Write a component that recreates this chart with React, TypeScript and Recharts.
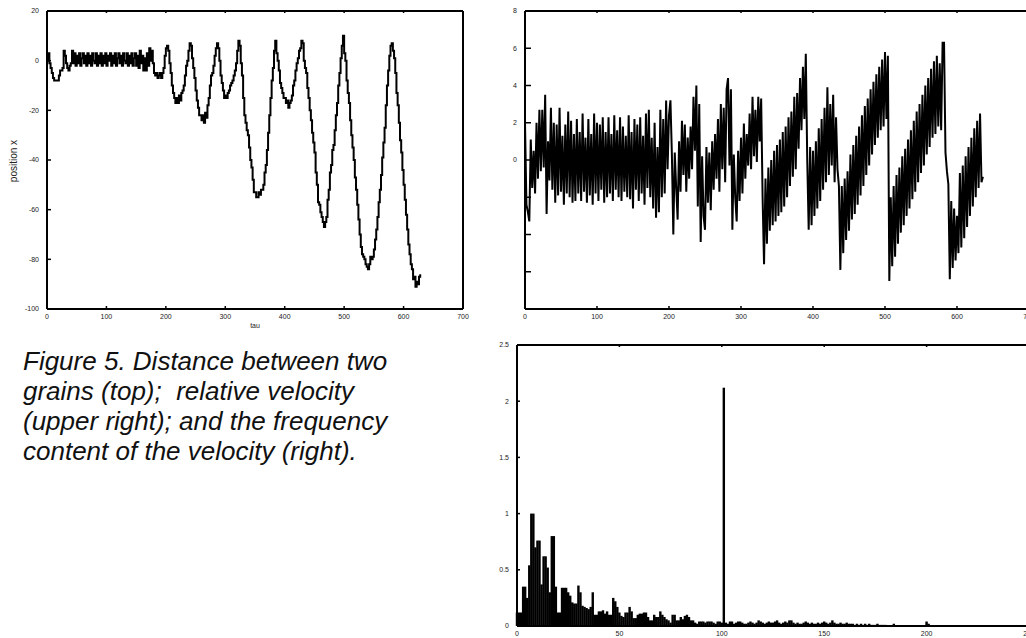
import React from 'react';
import { LineChart, Line, BarChart, Bar, XAxis, YAxis } from 'recharts';

// samples every 2 tau
const TAU_STEP = 2;

// distance between the two grains
const POSITION_X = [
  0, 3, -1, -3, -5, -7, -8, -8, -8, -8, -6, -4, -4, -3, 4, 2, -1, -3, -4, -2, -1, 4,
  -1, 3, -2, 2, -1, 3, -2, 1, 3, -1, 2, -2, 3, -1, 2, -2, 3, 0, -1, 3, -2, 2, -1, 3,
  -2, 2, -1, 3, -2, 2, 0, 3, -2, 2, -1, 3, -2, 1, 3, -1, 2, -2, 3, 0, -1, 3, -2, 2,
  -1, 3, -2, 1, 3, -2, 2, -3, 4, -1, 2, -4, 1, -4, 3, -2, 5, 0, 4, -1, -5,
  -6, -5, -7, -6, -5, -7, -5, -3, 2, 5,
  6, 4, -1, -5, -10, -13, -15, -17, -15, -17, -14, -16, -13, -12, -10, -6, -2, 0, 4, 7,
  6, 1, -3, -7, -12, -16, -19, -22, -22, -24, -22, -25, -21, -23, -18, -15, -10, -6, -5, -2,
  2, 5, 7, 5, 0, -6, -9, -12, -15, -14, -15, -13, -12, -10, -9, -8, -6, -4, -1, 4,
  8, 6, -1, -6, -15, -22, -25, -28, -30, -35, -40, -43, -48, -53, -53, -55, -55, -53, -54, -52,
  -52, -50, -45, -42, -36, -29, -22, -15, -8, -3, 4, 8, 3, 0, -4, -9, -11, -13, -15, -15,
  -17, -16, -19, -17, -16, -14, -10, -8, -4, -1, 1, 4, 5, 8, 7, 0, -3, -5, -11, -15,
  -20, -24, -29, -33, -37, -45, -50, -57, -58, -61, -63, -65, -67, -65, -63, -56, -52, -45, -42, -36,
  -34, -28, -22, -17, -10, -5, 1, 6, 10, 3, 0, -8, -13, -17, -24, -30, -35, -40, -47, -52,
  -58, -64, -70, -75, -78, -79, -80, -82, -83, -84, -82, -79, -80, -79, -76, -72, -68, -63, -57, -52,
  -46, -39, -33, -27, -18, -10, -4, 2, 6, 7, 4, 1, -5, -13, -18, -25, -32, -37, -44, -50,
  -56, -62, -68, -74, -78, -82, -84, -88, -87, -91, -89, -90, -87, -86,
];

// relative velocity
const VELOCITY = [
  2, -2.4, -2.8, -3.3, 1.1, -1.5, 0.5, -1.8, 2.0, -1.0, 2.7, -0.6, 2.7, -0.4, 3.5, -2.9, 1.0, -1.1, 2.8, -1.6,
  2.0, -2.3, 1.9, -1.9, 2.8, -1.7, 1.3, -2.4, 1.9, -1.8, 2.6, -2.0, 2.1, -2.3, 1.4, -2.2, 2.2, -1.8, 1.5, -2.2,
  2.5, -1.7, 1.2, -2.3, 2.2, -1.9, 1.4, -2.4, 2.5, -1.8, 2.0, -2.2, 1.9, -1.6, 2.3, -2.3, 1.5, -2.0, 2.3, -1.8,
  1.4, -2.2, 2.4, -1.6, 1.6, -2.0, 2.3, -2.2, 1.8, -1.7, 1.3, -2.0, 2.4, -2.1, 1.5, -2.6, 2.2, -1.6, 1.9, -2.2,
  2.3, -1.8, 1.3, -2.4, 2.5, -1.5, 2.7, -2.0, 1.2, -2.6, 2.0, -3.1, 0.7, -2.8, 2.7, -2.0, 2.2, -1.8, 3.2, -0.5,
  2.4,
  3.2, 0.3, -4.0, 0.4, -1.5, -3.2, 1.0, -1.7, 2.1, -0.8, 1.9, -1.7, 1.2, -1.0, 1.8, -0.5, 3.4, 0.5, 4.0, -2.5,
  3.0, -4.4, 0.2, -3.0, -3.75, 0.7, -2.3, 0.4, -2.7, 1.0, -1.6, 1.4, -1.0, 2.2, -1.7, 3.0, -0.5, 2.8, -1.2, 3.8,
  4.4, -0.3, 3.8, -3.75, 0.3, -2.0, -3.3, 0.5, -2.2, 1.2, -1.8, 1.96, -1.0, 1.4, -0.3, 2.5, -0.5, 3.4, 0.2, 2.7,
  -0.1, 3.4, 1.0, 3.3, -2.0,
  -5.6, -1.0, -4.5, -0.4, -3.8, 0.0, -3.5, 0.5, -3.3, 0.8, -3.0, 1.1, -2.8, 1.5, -2.5, 1.8, -2.0, 2.3, -1.4, 2.6,
  -0.9, 3.4, -0.5, 3.6, 0.6, 4.4, 1.6, 5.0, 2.2, 5.7, 0.0, -3.75, 0.7, -3.5, 0.5, -3.0, 1.0, -2.6, 1.7, -2.2,
  2.2, -1.6, 2.8, -1.2, 3.9, -0.8, 3.0, -0.3, 3.5, -1.2, 2.3, -0.5, -1.4, -5.9, -1.4, -5.0, -1.0, -4.3, -0.6, -3.8,
  0.3, -3.2, 0.8, -2.9, 1.3, -2.4, 1.8, -1.9, 2.4, -1.4, 2.9, -0.8, 3.3, -0.3, 3.8, 0.3, 4.2, 0.8, 4.6, 1.2,
  5.0, 1.6, 5.4, 1.8, 5.8, 2.2, 5.6, -6.5, -2.0, -5.7, -1.4, -5.2, -0.8, -4.5, -0.4, -3.9, 0.2, -3.5, 0.6, -3.0,
  1.1, -2.6, 1.6, -2.1, 2.1, -1.7, 2.6, -1.2, 3.0, -0.7, 3.5, -0.3, 4.0, 0.3, 4.4, 0.7, 4.9, 1.2, 5.3, 1.4,
  5.6, 1.8, 5.2, 1.6, 6.3, 6.3, 0.4, -0.6, -1.3, -6.4, -2.2, -5.8, -2.6, -5.4, -3.0, -5.0, -0.7, -4.7, -0.3, -4.2,
  0.2, -3.6, 0.7, -3.0, 1.2, -2.5, 1.7, -2.0, 2.1, -1.5, 2.5, -1.2, -0.9,
];

// frequency content of the velocity, index = frequency
const SPECTRUM = [
  0.12, 0.12, 0.12, 0.35, 0.35, 0.25, 0.54, 1.0, 1.0, 0.7, 0.76, 0.76, 0.37, 0.62, 0.62, 0.52, 0.3, 0.8, 0.8, 0.35,
  0.12, 0.12, 0.34, 0.34, 0.34, 0.3, 0.27, 0.21, 0.2, 0.2, 0.36, 0.3, 0.18, 0.17, 0.16, 0.15, 0.17, 0.3, 0.1, 0.1,
  0.13, 0.13, 0.14, 0.11, 0.13, 0.1, 0.1, 0.25, 0.22, 0.17, 0.12, 0.09, 0.08, 0.12, 0.12, 0.17, 0.13, 0.07, 0.07, 0.1,
  0.11, 0.11, 0.12, 0.12, 0.08, 0.05, 0.05, 0.1, 0.08, 0.08, 0.13, 0.1, 0.08, 0.06, 0.05, 0.03, 0.1, 0.1, 0.05, 0.05,
  0.08, 0.06, 0.09, 0.1, 0.08, 0.05, 0.05, 0.03, 0.02, 0.04, 0.04, 0.04, 0.03, 0.04, 0.04, 0.04, 0.03, 0.02, 0.04, 0.04,
  0.03, 2.12, 0.03, 0.02, 0.04, 0.04, 0.02, 0.03, 0.04, 0.04, 0.03, 0.02, 0.02, 0.03, 0.04, 0.03, 0.02, 0.03, 0.05, 0.04,
  0.03, 0.02, 0.03, 0.04, 0.03, 0.03, 0.04, 0.05, 0.03, 0.02, 0.03, 0.04, 0.03, 0.05, 0.05, 0.03, 0.02, 0.03, 0.02, 0.02,
  0.03, 0.04, 0.03, 0.02, 0.03, 0.02, 0.02, 0.03, 0.02, 0.03, 0.04, 0.03, 0.02, 0.03, 0.05, 0.03, 0.02, 0.02, 0.03, 0.02,
  0.02, 0.03, 0.02, 0.02, 0.02, 0.01, 0.02, 0.01, 0.02, 0.01, 0.02, 0.01, 0.02, 0.01, 0.01, 0.01, 0.02, 0.01, 0.01, 0.01,
  0.01, 0.005, 0.005, 0.005, 0.02, 0.005, 0.005, 0.005, 0.005, 0.005, 0.005, 0.005, 0.005, 0.005, 0.005, 0.005, 0.005, 0.005, 0.005, 0.005,
  0.04, 0.02,
];

const TAU_TICKS = [0, 100, 200, 300, 400, 500, 600, 700];
const POS_TICKS = [-100, -80, -60, -40, -20, 0, 20];
const VEL_TICKS = [-8, -6, -4, -2, 0, 2, 4, 6, 8];
const FREQ_TICKS = [0, 50, 100, 150, 200, 250];
const AMP_TICKS = [0, 0.5, 1, 1.5, 2, 2.5];

const CAPTION = [
  'Figure 5. Distance between two',
  'grains (top);  relative velocity',
  '(upper right); and the frequency',
  'content of the velocity (right).',
];

const posData = POSITION_X.map((x, i) => ({ tau: i * TAU_STEP, x }));
const velData = VELOCITY.map((v, i) => ({ tau: i * TAU_STEP, v }));
const specData = SPECTRUM.map((a, f) => ({ f, a }));

const FONT = '"Liberation Sans", Arial, Helvetica, sans-serif';
const tickText = { fontSize: 7, fill: '#222', fontFamily: FONT };
const frameLine = { stroke: '#000', strokeWidth: 2 };

const leftTick = (len: number, show: (v: number) => boolean = () => true) => (p: any) => (
  <g>
    <line x1={p.x} y1={p.y} x2={p.x + len} y2={p.y} stroke="#000" strokeWidth={1.5} />
    {show(p.payload.value) && (
      <text x={p.x - 8} y={p.y} dy="0.35em" textAnchor="end" {...tickText}>{p.payload.value}</text>
    )}
  </g>
);
const rightTick = (len: number) => (p: any) => (
  <line x1={p.x} y1={p.y} x2={p.x - len} y2={p.y} stroke="#000" strokeWidth={1.5} />
);
const bottomTick = (len: number) => (p: any) => (
  <g>
    <line x1={p.x} y1={p.y} x2={p.x} y2={p.y - len} stroke="#000" strokeWidth={1.5} />
    <text x={p.x} y={p.y + 10} textAnchor="middle" {...tickText}>{p.payload.value}</text>
  </g>
);
const topTick = (len: number) => (p: any) => (
  <line x1={p.x} y1={p.y} x2={p.x} y2={p.y + len} stroke="#000" strokeWidth={1.5} />
);

// histogram bars touching each other
const SolidBar = (p: any) => (
  <rect x={p.x - 0.2} y={p.y} width={p.width + 0.4} height={Math.max(p.height, 0)} fill="#000" />
);

const PosLabel = () => (
  <text x={13.5} y={161} transform="rotate(-90 13.5 161)" textAnchor="middle" dy="0.35em"
    fontSize={10} fill="#222" fontFamily={FONT}>position x</text>
);
const TauLabel = () => (
  <text x={255} y={328} textAnchor="middle" fontSize={7} fill="#222" fontFamily={FONT}>tau</text>
);

function frameAxes(o: {
  xKey: string; xDomain: number[]; xTicks: number[]; xH: number;
  yDomain: number[]; yTicks: number[]; yW: number; leftLen: number;
  showY?: (v: number) => boolean; xLabel?: any; yLabel?: any;
}) {
  return [
    <XAxis key="xb" xAxisId="b" type="number" dataKey={o.xKey} domain={o.xDomain} ticks={o.xTicks}
      interval={0} height={o.xH} tickSize={0} tickMargin={0} tickLine={false} axisLine={frameLine}
      tick={bottomTick(3)} label={o.xLabel} />,
    <XAxis key="xt" xAxisId="t" orientation="top" type="number" dataKey={o.xKey} domain={o.xDomain}
      ticks={o.xTicks} interval={0} height={5} tickSize={0} tickMargin={0} tickLine={false}
      axisLine={frameLine} tick={topTick(2)} />,
    <YAxis key="yl" yAxisId="l" type="number" domain={o.yDomain} ticks={o.yTicks} interval={0}
      width={o.yW} tickSize={0} tickMargin={0} tickLine={false} axisLine={frameLine}
      tick={leftTick(o.leftLen, o.showY)} label={o.yLabel} />,
    <YAxis key="yr" yAxisId="r" orientation="right" type="number" domain={o.yDomain} ticks={o.yTicks}
      interval={0} width={5} tickSize={0} tickMargin={0} tickLine={false} axisLine={frameLine}
      tick={rightTick(3)} />,
  ];
}

export default function App() {
  return (
    <div style={{ position: 'fixed', left: 0, top: 0, width: 1026, height: 638, overflow: 'hidden', background: '#fff' }}>
      <div style={{ position: 'absolute', left: 0, top: 0 }}>
        <LineChart width={480} height={340} data={posData} margin={{ top: 6, right: 12, bottom: 6, left: 0 }}>
          {frameAxes({
            xKey: 'tau', xDomain: [0, 700], xTicks: TAU_TICKS, xH: 25,
            yDomain: [-100, 20], yTicks: POS_TICKS, yW: 47, leftLen: 4,
            xLabel: <TauLabel />, yLabel: <PosLabel />,
          })}
          <Line xAxisId="b" yAxisId="l" type="stepAfter" dataKey="x" stroke="#000" strokeWidth={2}
            dot={false} isAnimationActive={false} />
        </LineChart>
      </div>

      <div style={{ position: 'absolute', left: 490, top: 0 }}>
        <LineChart width={560} height={340} data={velData} margin={{ top: 6, right: 16, bottom: 6, left: 0 }}>
          {frameAxes({
            xKey: 'tau', xDomain: [0, 700], xTicks: TAU_TICKS, xH: 25,
            yDomain: [-8, 8], yTicks: VEL_TICKS, yW: 35, leftLen: 6,
            showY: (v) => v >= 0,
          })}
          <Line xAxisId="b" yAxisId="l" type="linear" dataKey="v" stroke="#000" strokeWidth={2}
            dot={false} isAnimationActive={false} />
        </LineChart>
      </div>

      <div style={{ position: 'absolute', left: 490, top: 335 }}>
        <BarChart width={560} height={303} data={specData} barCategoryGap={0} barGap={0}
          margin={{ top: 5, right: 16, bottom: 0, left: 0 }}>
          {frameAxes({
            xKey: 'f', xDomain: [0, 250], xTicks: FREQ_TICKS, xH: 12,
            yDomain: [0, 2.5], yTicks: AMP_TICKS, yW: 27, leftLen: 3,
          })}
          <Bar xAxisId="b" yAxisId="l" dataKey="a" fill="#000" shape={SolidBar} isAnimationActive={false} />
        </BarChart>
      </div>

      <div style={{
        position: 'absolute', left: 23, top: 346, fontFamily: FONT, fontStyle: 'italic',
        fontSize: 26, lineHeight: '30px', color: '#111', whiteSpace: 'pre',
      }}>
        {CAPTION.map((line) => <div key={line}>{line}</div>)}
      </div>
    </div>
  );
}
